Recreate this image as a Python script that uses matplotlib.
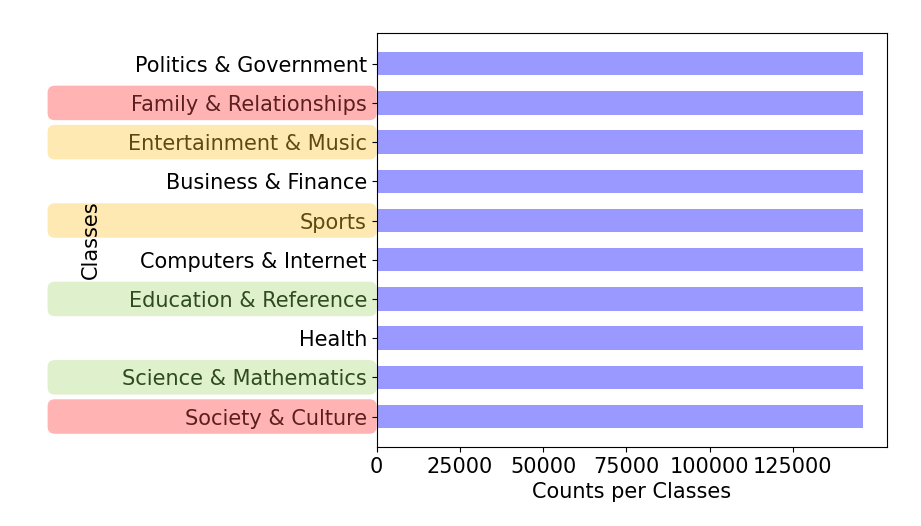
import matplotlib.pyplot as plt
from matplotlib.patches import FancyBboxPatch
import matplotlib.transforms as mtransforms

classes = ["Society & Culture", "Science & Mathematics", "Health",
           "Education & Reference", "Computers & Internet", "Sports",
           "Business & Finance", "Entertainment & Music",
           "Family & Relationships", "Politics & Government"]
counts = [146000] * 10
# highlight groups: None, "red", "yellow", "green"
groups = ["red", "green", None, "green", None, "yellow", None, "yellow", "red", None]

box_colors = {"red": "#ffb3b3", "yellow": "#ffe9b3", "green": "#dff0cc"}
text_colors = {"red": "#5c1f1f", "yellow": "#5c4a10", "green": "#2f4a1f"}

fig = plt.figure(figsize=(9.21, 5.26), dpi=100)
ax = fig.add_axes([0.409, 0.150, 0.554, 0.787])
ax.barh(classes, counts, height=0.6, color="#9999ff")
ax.tick_params(labelsize=15)
ax.set_xlabel("Counts per Classes", fontsize=15)
ax.set_ylabel("Classes", fontsize=15)
ax.yaxis.set_label_coords(-0.54, 0.5)
ax.set_xticks([0, 25000, 50000, 75000, 100000, 125000])

trans = mtransforms.blended_transform_factory(ax.transAxes, ax.transData)
for i, (lbl, g) in enumerate(zip(ax.get_yticklabels(), groups)):
    if g is None:
        continue
    box = FancyBboxPatch((-0.645, i - 0.44), 0.645, 0.88,
                         boxstyle="round,pad=0,rounding_size=0.014",
                         mutation_aspect=13,
                         transform=trans, clip_on=False,
                         facecolor=box_colors[g], edgecolor="none", zorder=-1)
    ax.add_patch(box)
    lbl.set_color(text_colors[g])

fig.savefig("out.png", dpi=100)
